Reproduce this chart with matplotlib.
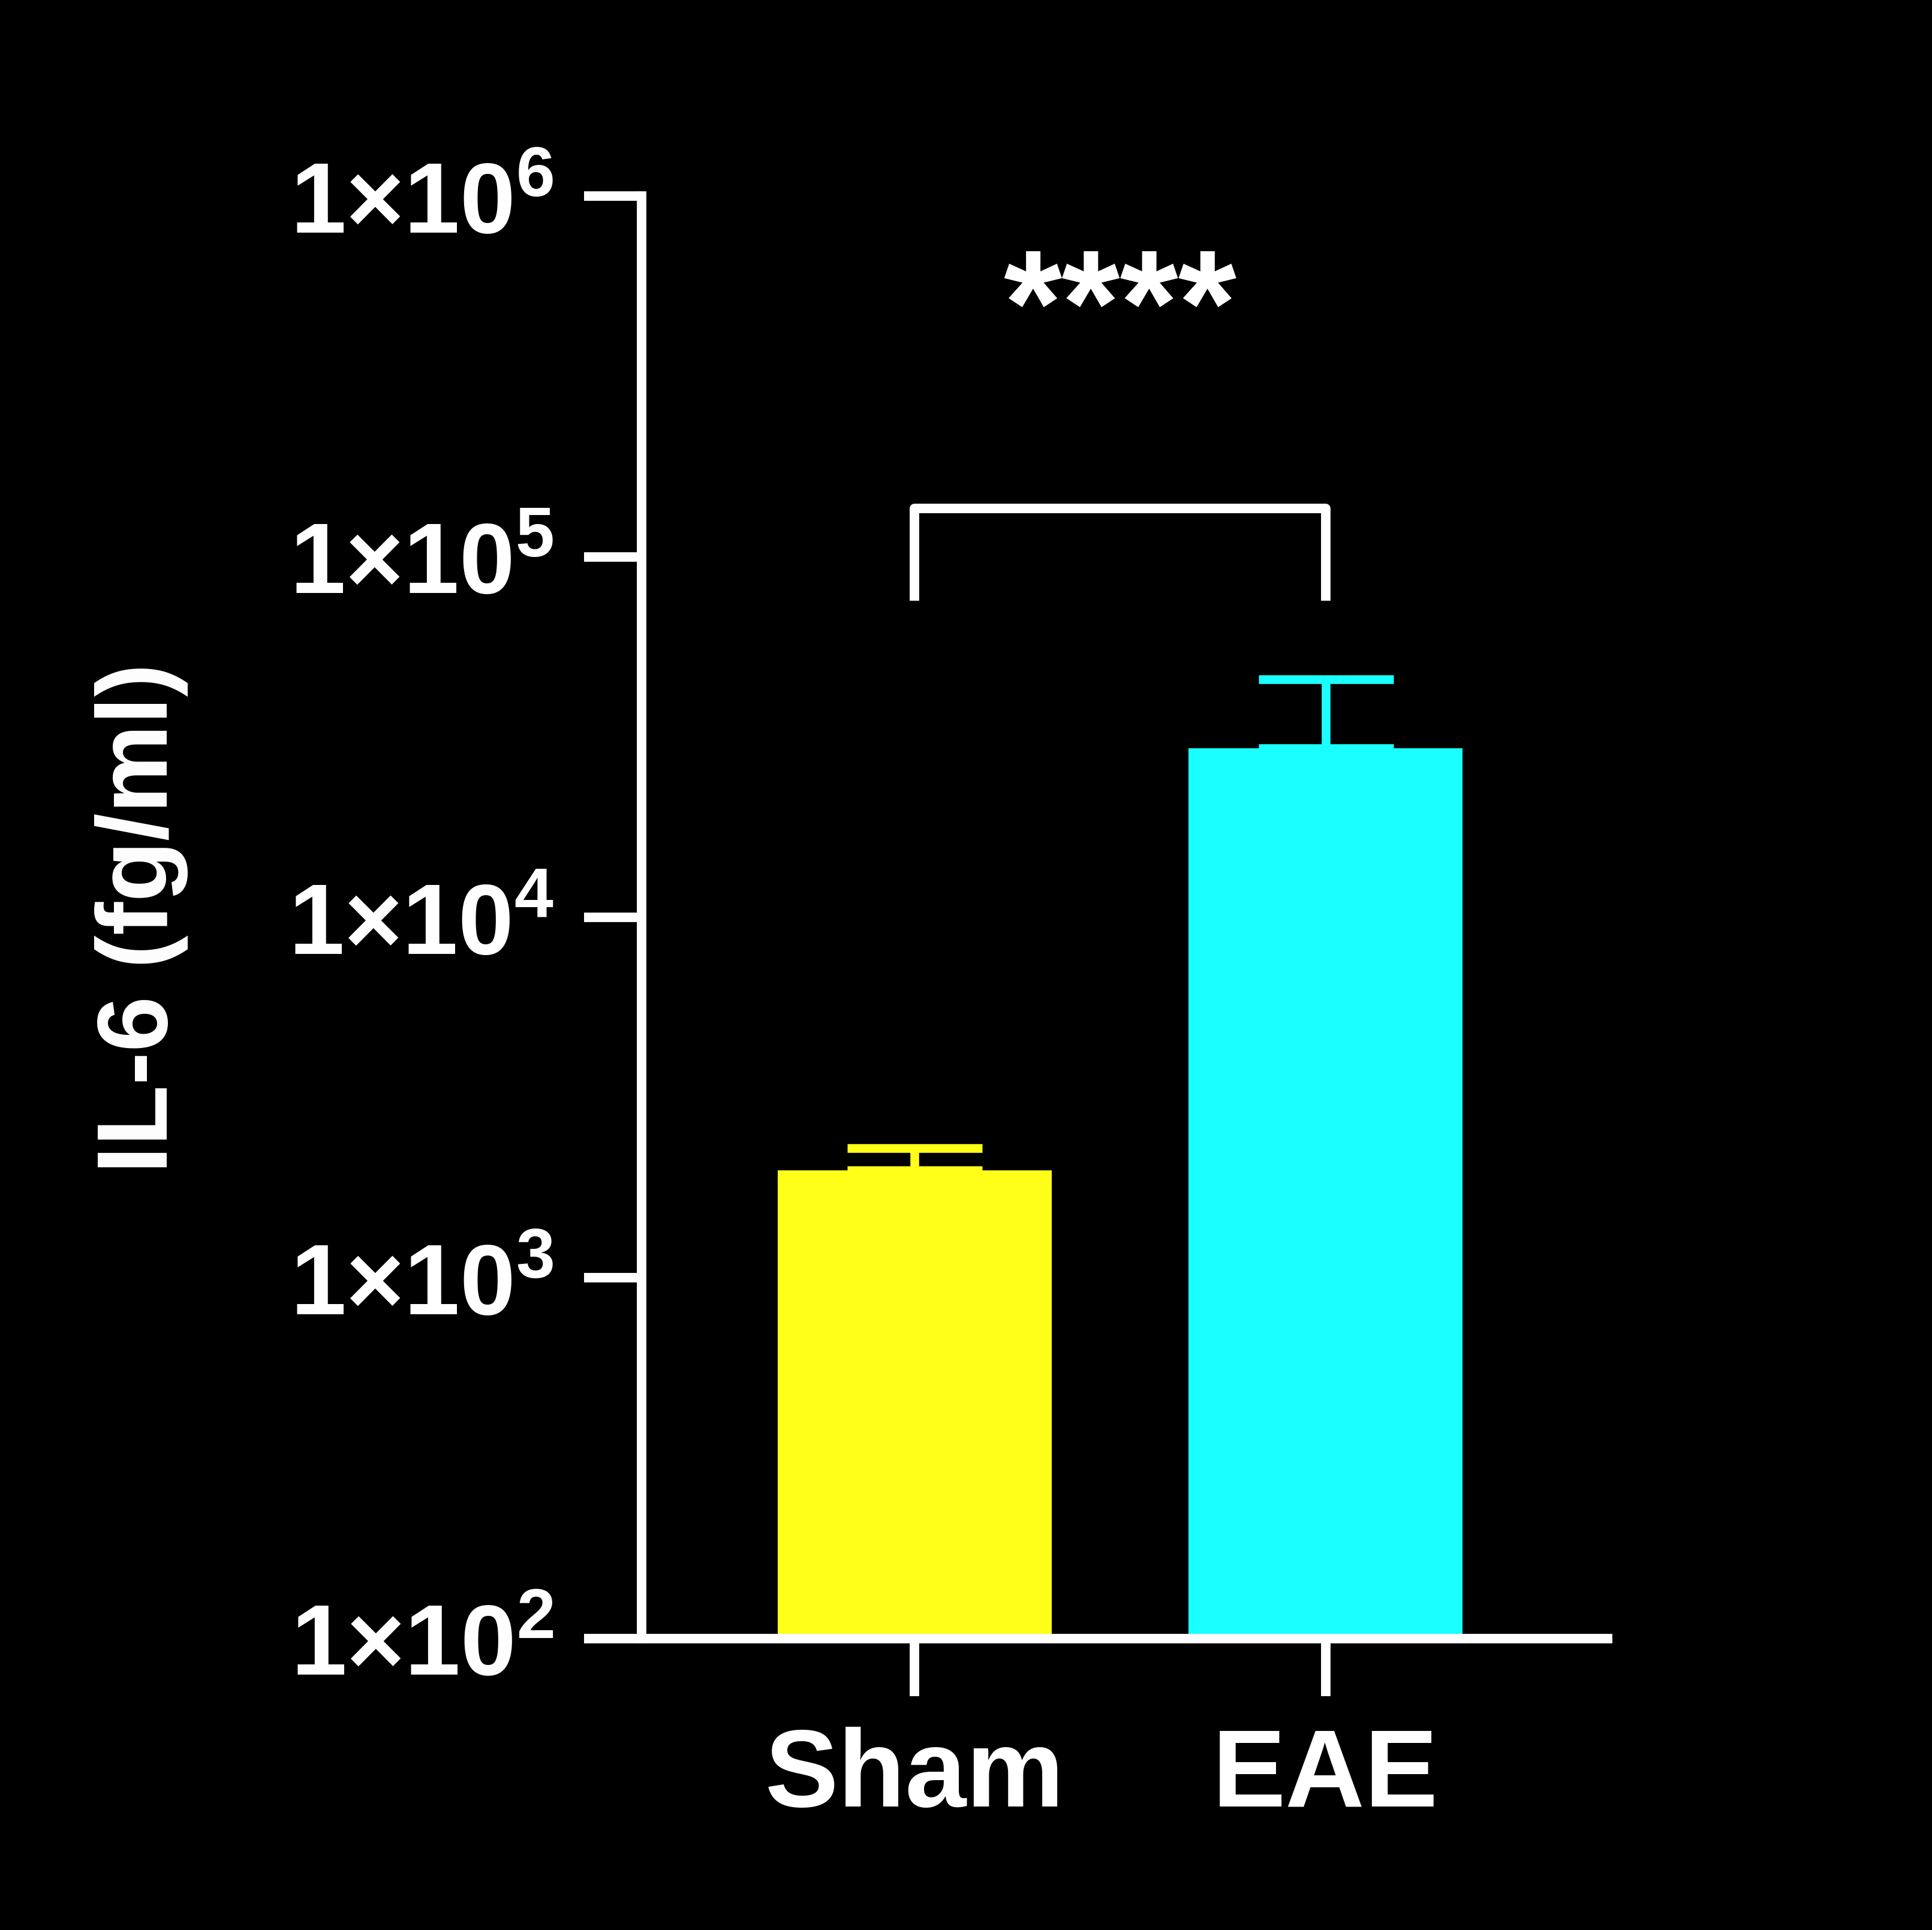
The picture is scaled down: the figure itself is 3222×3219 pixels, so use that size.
import matplotlib
matplotlib.use("Agg")
import matplotlib.pyplot as plt
import numpy as np

categories = ["Sham", "EAE"]
means = [1990, 29500]
upper_err = [2290, 45800]
colors = ["#ffff1a", "#1affff"]
ytick_exp = [2, 3, 4, 5, 6]
sig_text = "****"
bracket_top = 136000
bracket_leg = 78000

plt.rcParams['font.family'] = ['Liberation Sans', 'DejaVu Sans']
plt.rcParams['mathtext.fontset'] = 'custom'
plt.rcParams['mathtext.rm'] = 'Liberation Sans:bold'
plt.rcParams['mathtext.bf'] = 'Liberation Sans:bold'

fig = plt.figure(figsize=(3222/300, 3220/300), dpi=300, facecolor='black')
ax = fig.add_axes([0.332, 0.151, 0.5, 0.747])
ax.set_facecolor('black')
x = np.arange(len(categories))
ax.bar(x, means, width=0.668, color=colors, bottom=0, zorder=2)
for xi, m, u, c in zip(x, means, upper_err, colors):
    ax.errorbar([xi], [m], yerr=[[0], [u - m]], fmt='none', ecolor=c,
                elinewidth=3.5, capsize=27, capthick=3.5, zorder=1)
ax.set_yscale('log')
ax.set_ylim(100, 1e6)
ax.set_xlim(-0.665, 1.686)
ax.set_yticks([10.0**e for e in ytick_exp])
ax.set_yticklabels([r"$\mathbf{1{\times}10^{%d}}$" % e for e in ytick_exp],
                   fontsize=40, color='white')
ax.yaxis.set_minor_locator(matplotlib.ticker.NullLocator())
ax.set_xticks(x)
ax.set_xticklabels(categories, fontsize=44, fontweight='bold', color='white')
for s in ['top', 'right']:
    ax.spines[s].set_visible(False)
for s in ['left', 'bottom']:
    ax.spines[s].set_color('white')
    ax.spines[s].set_linewidth(3.8)
ax.tick_params(axis='both', colors='white', width=3.8, length=23, pad=12)
ax.set_ylabel("IL-6 (fg/ml)", fontsize=40, fontweight='bold', color='white', labelpad=40)
ax.plot([0, 0, 1, 1], [bracket_leg, bracket_top, bracket_top, bracket_leg],
        color='white', lw=3.8, clip_on=False)
ax.text(0.5, bracket_top * 2.2, sig_text, ha='center', va='bottom',
        fontsize=60, fontweight='bold', color='white')
fig.savefig("out.png", dpi=300, facecolor='black')
